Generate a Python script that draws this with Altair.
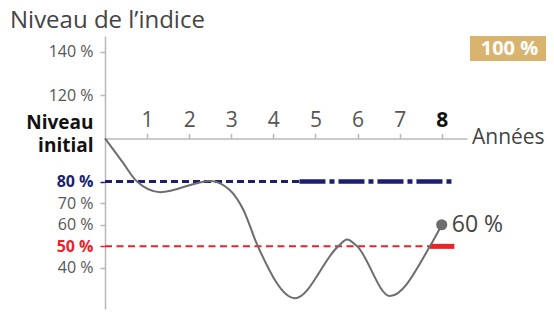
import altair as alt
import pandas as pd

# ---- data ----
years = [0, 0.4, 0.76, 1.31, 2.5, 2.97, 3.28, 3.63, 4.51, 5.54, 5.75, 5.99, 6.77, 7.72, 8.0]
levels = [100, 89.5, 80, 75.1, 80.3, 76, 67.2, 50.1, 26, 50, 53.2, 50, 27, 50, 60]

x_ticks = [1, 2, 3, 4, 5, 6, 7, 8]
y_ticks = [40, 50, 60, 70, 80, 100, 120, 140]

final_year = [8.0]
final_level = [60]
final_label = ["60 %"]

coupon_level = 80
capital_level = 50
coupon_thin = [0, 4.62]
coupon_thick = [4.62, 8.3]
capital_thin = [0, 7.72]
capital_thick = [7.72, 8.3]

badge_x = [8.67, 10.55]
badge_y = [135.8, 147.4]
badge_text = ["100 %"]

axis_label = ["Années"]
axis_label_pos = [8.6]
initial_level = 100

# ---- styling ----
FONT = "Open Sans"
NAVY = "#1b1f6e"
RED = "#ec2227"
GREY = "#555555"
CURVE = "#6d6d6f"
AXIS = "#b8b8b8"
GOLD = "#d8b46f"

X_DOM = [0, 8.6]
Y_DOM = [21.0, 147.4]
W, H = 362, 273
axis_pos = H * (Y_DOM[1] - initial_level) / (Y_DOM[1] - Y_DOM[0])

xs = alt.Scale(domain=X_DOM, nice=False, zero=False)
ys = alt.Scale(domain=Y_DOM, nice=False, zero=False)

curve_df = pd.DataFrame({"year": years, "level": levels})

x_axis = alt.Axis(
    orient="top", offset=-axis_pos, values=x_ticks, title=None, grid=False,
    domainColor=AXIS, domainWidth=1.5, tickColor=AXIS, tickWidth=1.5, tickSize=5,
    labelFont=FONT, labelFontSize=21, labelPadding=3, labelOverlap=False,
    labelColor={"condition": {"test": "datum.value == 8", "value": "#111111"}, "value": GREY},
    labelFontWeight={"condition": {"test": "datum.value == 8", "value": "bold"}, "value": "normal"},
)
y_axis = alt.Axis(
    values=y_ticks, title=None, grid=False,
    labelExpr="datum.value == 100 ? ['Niveau', 'initial'] : datum.value + ' %'",
    domainColor=AXIS, domainWidth=1.5, tickSize=5, tickWidth=1.5,
    tickColor={"condition": [
        {"test": "datum.value == 80", "value": NAVY},
        {"test": "datum.value == 50", "value": RED},
        {"test": "datum.value == 100", "value": "transparent"}], "value": AXIS},
    labelFont=FONT, labelPadding=7, labelOverlap=False, labelBound=False, labelLineHeight=23,
    labelColor={"condition": [
        {"test": "datum.value == 80", "value": NAVY},
        {"test": "datum.value == 50", "value": RED},
        {"test": "datum.value == 100", "value": "#111111"}], "value": GREY},
    labelFontWeight={"condition": {"test": "datum.value == 100 || datum.value == 80 || datum.value == 50",
                                   "value": "bold"}, "value": "normal"},
    labelFontSize={"condition": {"test": "datum.value == 100", "value": 19}, "value": 16},
    labelOffset={"condition": {"test": "datum.value == 100", "value": -16}, "value": 0},
)


def X(field):
    return alt.X(field, scale=xs, axis=x_axis)


def Y(field):
    return alt.Y(field, scale=ys, axis=y_axis)


curve = alt.Chart(curve_df).mark_line(
    color=CURVE, strokeWidth=2, interpolate="monotone"
).encode(x=X("year:Q"), y=Y("level:Q"))


def segment(xr, level, color, width, dash=None):
    df = pd.DataFrame({"x1": [xr[0]], "x2": [xr[1]], "y": [level]})
    kw = dict(color=color, strokeWidth=width)
    if dash:
        kw["strokeDash"] = dash
    return alt.Chart(df).mark_rule(**kw).encode(
        x=X("x1:Q"), x2="x2:Q", y=Y("y:Q"),
    )


blue_thin = segment(coupon_thin, coupon_level, NAVY, 3, [7, 4])
blue_thick = segment(coupon_thick, coupon_level, NAVY, 4.5, [26, 4, 5, 4])
red_thin = segment(capital_thin, capital_level, RED, 2, [7, 4.5])
red_thick = segment(capital_thick, capital_level, RED, 5)

final_df = pd.DataFrame({"year": final_year, "level": final_level, "label": final_label})
point = alt.Chart(final_df).mark_circle(size=125, color=CURVE, opacity=1).encode(
    x=X("year:Q"), y=Y("level:Q"),
)
final_text = alt.Chart(final_df).mark_text(
    align="left", baseline="middle", dx=10, font=FONT, fontSize=23, color="#444444"
).encode(
    x=X("year:Q"), y=Y("level:Q"), text="label:N",
)

annees_df = pd.DataFrame({"x": axis_label_pos, "y": [initial_level], "t": axis_label})
annees = alt.Chart(annees_df).mark_text(
    align="left", baseline="middle", dx=5, font=FONT, fontSize=21, color="#444444"
).encode(
    x=X("x:Q"), y=Y("y:Q"), text="t:N",
)

badge_df = pd.DataFrame({"x1": [badge_x[0]], "x2": [badge_x[1]], "y1": [badge_y[0]], "y2": [badge_y[1]],
                         "xc": [sum(badge_x) / 2], "yc": [sum(badge_y) / 2], "t": badge_text})
badge_rect = alt.Chart(badge_df).mark_rect(color=GOLD).encode(
    x=X("x1:Q"), x2="x2:Q", y=Y("y1:Q"), y2="y2:Q",
)
badge_label = alt.Chart(badge_df).mark_text(
    align="center", baseline="middle", font=FONT, fontSize=20, fontWeight="bold", color="white"
).encode(
    x=X("xc:Q"), y=Y("yc:Q"), text="t:N",
)

chart = alt.layer(
    blue_thin, blue_thick, red_thin, red_thick, curve, point, final_text,
    annees, badge_rect, badge_label,
).properties(
    width=W, height=H,
    title=alt.TitleParams(
        text="Niveau de l’indice", anchor="start", frame="group", dx=-95, offset=3,
        font=FONT, fontSize=24, fontWeight="normal", color="#444444",
    ),
    autosize=alt.AutoSizeParams(type="none"),
    padding={"left": 97, "top": 28, "right": 79, "bottom": 1},
).configure_view(stroke=None)

chart.save("out.html", embed_options={"renderer": "svg", "actions": False})
